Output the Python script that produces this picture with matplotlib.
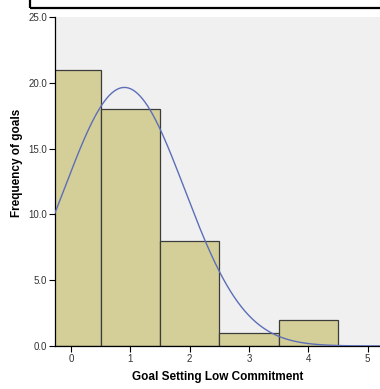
import numpy as np
import matplotlib
matplotlib.use('Agg')
import matplotlib.pyplot as plt
from matplotlib.patches import Rectangle

# histogram counts per commitment score
scores = [0, 1, 2, 3, 4, 5]
counts = [21, 18, 8, 1, 2, 0]
y_ticks = [0.0, 5.0, 10.0, 15.0, 20.0, 25.0]

plt.rcParams['font.family'] = ['Liberation Sans', 'DejaVu Sans']

fig = plt.figure(figsize=(3.8, 3.89), dpi=100)
ax = fig.add_axes([55 / 380, 1 - 346 / 389, 325 / 380, 329 / 389])
ax.set_facecolor('#F0F0F0')

ax.bar(scores, counts, width=1.0, color='#D4CF98', edgecolor='#3C3C3C', linewidth=0.9, zorder=2)

# normal curve fitted to the data
vals = np.repeat(scores, counts)
mu = vals.mean()
sd = vals.std(ddof=1)
xs = np.linspace(-0.5, 5.5, 300)
ys = len(vals) * 1.0 / (sd * np.sqrt(2 * np.pi)) * np.exp(-0.5 * ((xs - mu) / sd) ** 2)
ax.plot(xs, ys, color='#5C6EB8', linewidth=1.0, zorder=3)

ax.set_xlim(-0.27, 5.21)
ax.set_ylim(0, 25)
ax.set_xticks(scores)
ax.set_yticks(y_ticks)
ax.set_yticklabels(['%.1f' % t for t in y_ticks])
ax.tick_params(axis='both', labelsize=7, colors='black', labelcolor='#333333', length=4, width=0.8, pad=1.5)

for s in ['top', 'right']:
    ax.spines[s].set_visible(False)
for s in ['left', 'bottom']:
    ax.spines[s].set_color('black')
    ax.spines[s].set_linewidth(0.9)

ax.set_xlabel('Goal Setting Low Commitment', fontsize=8.5, fontweight='bold')
ax.set_ylabel('Frequency of goals', fontsize=8.5, fontweight='bold')
ax.xaxis.set_label_coords(0.5, -0.076)
ax.yaxis.set_label_coords(-0.098, 0.556)

# cropped frame at the top of the image
fig.patches.append(Rectangle((30 / 380, 1 - 7.5 / 389), 1.0, 0.2, transform=fig.transFigure,
                             fill=False, edgecolor='black', linewidth=1.6))

fig.savefig('out.png', dpi=100)
